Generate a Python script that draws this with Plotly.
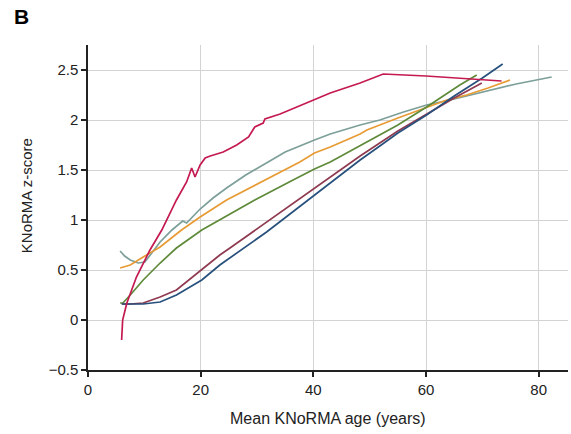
import plotly.graph_objects as go

# ---- data ----
red_x = [5.97, 6.05, 6.15, 6.5, 6.9, 8.6, 11.0, 13.1, 15.7, 17.5, 18.4, 19.0, 19.9, 20.8, 21.7, 24.0, 26.4, 28.5, 29.6, 31.1, 31.4, 34.1, 37.0, 40.0, 43.0, 48.3, 52.4, 60.0, 69.0, 73.4]
red_y = [-0.20, -0.10, 0.00, 0.08, 0.17, 0.43, 0.70, 0.90, 1.20, 1.38, 1.52, 1.43, 1.55, 1.62, 1.64, 1.68, 1.75, 1.83, 1.93, 1.97, 2.01, 2.06, 2.13, 2.20, 2.27, 2.37, 2.46, 2.44, 2.41, 2.39]

teal_x = [5.7, 6.5, 7.5, 8.9, 10.1, 11.3, 12.8, 14.9, 16.8, 17.5, 18.2, 19.9, 22.2, 24.6, 28.0, 31.1, 35.0, 40.2, 43.0, 48.3, 51.8, 56.0, 60.1, 65.0, 70.8, 76.0, 82.3]
teal_y = [0.69, 0.64, 0.60, 0.57, 0.58, 0.67, 0.78, 0.90, 0.99, 0.97, 1.01, 1.11, 1.22, 1.32, 1.45, 1.55, 1.68, 1.80, 1.86, 1.95, 2.00, 2.08, 2.15, 2.21, 2.29, 2.36, 2.43]

orange_x = [5.7, 7.5, 9.8, 12.8, 16.6, 19.9, 24.6, 31.4, 37.6, 40.2, 43.0, 48.3, 49.5, 55.0, 60.1, 63.7, 67.2, 71.0, 74.9]
orange_y = [0.52, 0.55, 0.63, 0.73, 0.90, 1.03, 1.20, 1.40, 1.58, 1.67, 1.73, 1.86, 1.90, 2.02, 2.13, 2.20, 2.25, 2.32, 2.40]

green_x = [5.7, 6.2, 7.5, 9.8, 12.8, 15.7, 20.2, 23.4, 29.6, 36.4, 40.2, 43.0, 48.3, 51.8, 55.0, 60.1, 63.1, 66.0, 69.0]
green_y = [0.17, 0.17, 0.25, 0.40, 0.57, 0.72, 0.90, 1.00, 1.20, 1.40, 1.51, 1.58, 1.74, 1.85, 1.95, 2.13, 2.24, 2.35, 2.45]

maroon_x = [6.0, 7.5, 9.8, 12.8, 15.7, 20.0, 23.4, 25.2, 31.7, 40.2, 48.3, 55.0, 60.1, 65.0, 69.9]
maroon_y = [0.16, 0.16, 0.17, 0.23, 0.30, 0.50, 0.65, 0.72, 0.98, 1.32, 1.64, 1.89, 2.06, 2.22, 2.37]

blue_x = [6.0, 9.8, 12.8, 15.7, 20.2, 23.4, 31.7, 40.2, 48.3, 51.8, 55.0, 60.1, 65.0, 70.0, 73.6]
blue_y = [0.16, 0.16, 0.18, 0.25, 0.40, 0.55, 0.88, 1.25, 1.60, 1.74, 1.87, 2.05, 2.24, 2.42, 2.56]

x_ticks = [0, 20, 40, 60, 80]
y_ticks = [-0.5, 0, 0.5, 1, 1.5, 2, 2.5]
y_ticktext = ["\u22120.5", "0", "0.5", "1", "1.5", "2", "2.5"]

series = [
    (teal_x, teal_y, "#7d9f99"),
    (orange_x, orange_y, "#e89b35"),
    (green_x, green_y, "#5e8a3a"),
    (maroon_x, maroon_y, "#8f3a50"),
    (blue_x, blue_y, "#27507c"),
    (red_x, red_y, "#c41a50"),
]

fig = go.Figure()
for xs, ys, col in series:
    fig.add_trace(go.Scatter(x=xs, y=ys, mode="lines",
                             line=dict(color=col, width=1.7),
                             showlegend=False, hoverinfo="skip"))

font_family = "Liberation Sans, Arial, sans-serif"
fig.update_layout(
    width=571, height=434,
    margin=dict(l=88, r=3, t=45, b=64),
    paper_bgcolor="white", plot_bgcolor="white",
    font=dict(family=font_family, size=15, color="#222"),
    xaxis=dict(range=[0, 85.2], tickvals=x_ticks, ticks="outside", ticklen=5,
               tickwidth=1.5, tickcolor="#222", showline=True, linecolor="#222",
               linewidth=1.5, showgrid=True, gridcolor="#d3d3d3", gridwidth=1,
               zeroline=False, tickfont=dict(size=15)),
    yaxis=dict(range=[-0.5, 2.75], tickvals=y_ticks, ticktext=y_ticktext,
               ticks="outside", ticklen=5, tickwidth=1.5, tickcolor="#222",
               showline=True, linecolor="#222", linewidth=1.5, showgrid=True,
               gridcolor="#d3d3d3", gridwidth=1, zeroline=False,
               tickfont=dict(size=15)),
    annotations=[
        dict(text="<b>B</b>", x=-0.158, y=1.089, xref="paper", yref="paper",
             xanchor="left", yanchor="middle", showarrow=False,
             font=dict(size=21, color="black")),
        dict(text="Mean KNoRMA age (years)", x=0.5, y=-0.148, xref="paper",
             yref="paper", xanchor="center", yanchor="middle", showarrow=False,
             font=dict(size=16)),
        dict(text="KNoRMA z-score", x=-0.129, y=0.535, xref="paper",
             yref="paper", xanchor="center", yanchor="middle", showarrow=False,
             textangle=-90, font=dict(size=15)),
    ],
)

fig.write_html("out.html", config={"displayModeBar": False},
               post_script="document.body.style.margin='0';document.body.style.padding='0';")
